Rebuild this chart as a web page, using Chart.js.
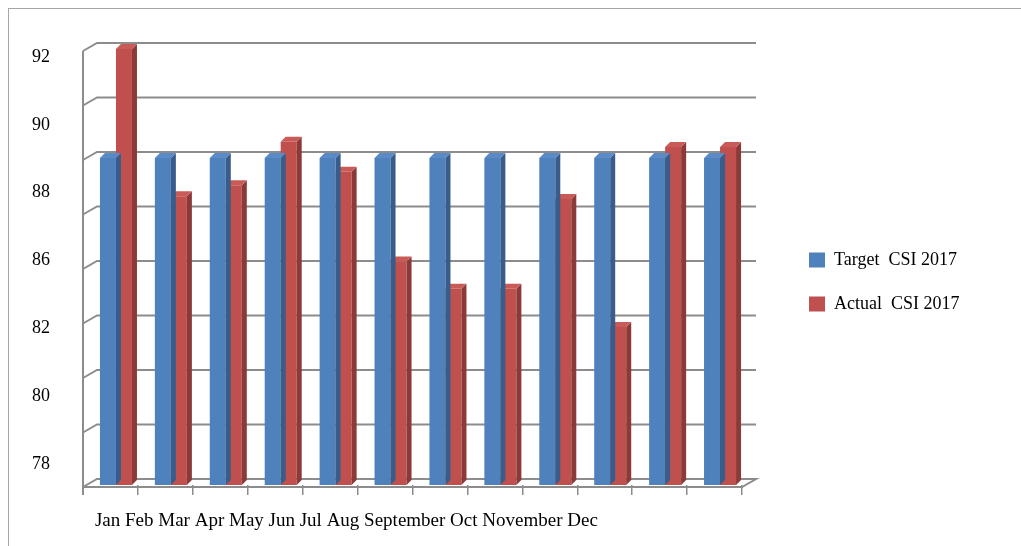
<!DOCTYPE html>
<html>
<head>
<meta charset="utf-8">
<script src="https://cdn.jsdelivr.net/npm/chart.js@4.4.1/dist/chart.umd.min.js"></script>
<style>
  html, body { margin: 0; padding: 0; background: #fff; }
  #wrap { position: relative; width: 1021px; height: 546px; overflow: hidden; }
  #frame { position: absolute; left: 8px; top: 8px; width: 1100px; height: 700px;
           border-left: 1px solid #a6a6a6; border-top: 1px solid #a6a6a6; }
  #c { position: absolute; left: 0; top: 0; }
</style>
</head>
<body>
<div id="wrap">
  <div id="frame"></div>
  <canvas id="c" width="1021" height="546"></canvas>
</div>
<script>
// ---------------- data ----------------
const categories = ['Jan', 'Feb', 'Mar', 'Apr', 'May', 'Jun', 'Jul', 'Aug', 'September', 'Oct', 'November', 'Dec'];
const seriesNames = ['Target  CSI 2017', 'Actual  CSI 2017'];
const targetCSI = [88, 88, 88, 88, 88, 88, 88, 88, 88, 88, 88, 88];
const actualCSI = [92, 86.6, 87.0, 88.6, 87.5, 84.2, 83.2, 83.2, 86.5, 81.8, 88.4, 88.4];
const yTickLabels = ['92', '90', '88', '86', '82', '80', '78'];
const yMin = 76, yMax = 92, yStep = 2;

// ---------------- styles / layout ----------------
const FONT = '"Liberation Serif", "Times New Roman", Times, serif';
const frontColors = ['#4F81BD', '#C0504D'];
const sideColors = ['#385D8A', '#8B3A38'];
const topColors = ['#5A8BC6', '#C85A57'];
const GRID = '#8c8c8c';
const plotLeft = 83, plotRight = 742, plotTop = 49, plotBottom = 485;
const legendLeft = 783;
const legendPad = 26, legendBoxW = 16, legendBoxH = 15, legendFont = 18;

Chart.defaults.font.family = FONT;
Chart.defaults.color = '#000';

// measure legend text so the layout lands where wanted
const mctx = document.createElement('canvas').getContext('2d');
mctx.font = legendFont + 'px ' + FONT;
const legendTextW = Math.max(...seriesNames.map(s => mctx.measureText(s).width));
const legendW = legendPad + legendBoxW + legendFont / 2 + legendTextW + 10;
const padRight = 1021 - legendLeft - legendW;

const threeD = {
  id: 'threeD',
  beforeDatasetsDraw(chart) {
    const { ctx, chartArea: a, scales: { y } } = chart;
    ctx.save();
    ctx.strokeStyle = GRID;
    ctx.lineWidth = 2;
    const vals = y.ticks.map(t => t.value);
    vals.forEach(v => {
      const py = y.getPixelForValue(v);
      ctx.beginPath();
      ctx.moveTo(a.left, py + 2);
      ctx.lineTo(a.left + 14, py - 6);
      ctx.lineTo(a.right + 14, py - 6);
      if (v === y.min) {
        ctx.lineTo(a.right, py + 2);
        ctx.lineTo(a.left, py + 2);
      }
      ctx.stroke();
    });
    ctx.beginPath();
    ctx.moveTo(a.left, y.getPixelForValue(y.max) + 2);
    ctx.lineTo(a.left, a.bottom + 10);
    ctx.stroke();
    ctx.restore();
    ctx.save();
    ctx.translate(5.5, 0);
  },
  afterDatasetDraw(chart, args) {
    const ctx = chart.ctx;
    const i = args.index;
    args.meta.data.forEach(bar => {
      const { x, y, base, width } = bar.getProps(['x', 'y', 'base', 'width'], true);
      const l = x - width / 2, r = x + width / 2;
      const d = 5;
      ctx.fillStyle = sideColors[i];
      ctx.beginPath();
      ctx.moveTo(r, y);
      ctx.lineTo(r + d, y - d);
      ctx.lineTo(r + d, base - d);
      ctx.lineTo(r, base);
      ctx.closePath();
      ctx.fill();
      ctx.fillStyle = topColors[i];
      ctx.beginPath();
      ctx.moveTo(l, y);
      ctx.lineTo(l + d, y - d);
      ctx.lineTo(r + d, y - d);
      ctx.lineTo(r, y);
      ctx.closePath();
      ctx.fill();
    });
  },
  afterDatasetsDraw(chart) {
    chart.ctx.restore();
  }
};

new Chart(document.getElementById('c'), {
  type: 'bar',
  data: {
    labels: categories,
    datasets: [
      { label: seriesNames[0], data: targetCSI, base: yMin, backgroundColor: frontColors[0], borderWidth: 0, clip: false },
      { label: seriesNames[1], data: actualCSI, base: yMin, backgroundColor: frontColors[1], borderWidth: 0, clip: false }
    ]
  },
  options: {
    responsive: false,
    animation: false,
    layout: { padding: { left: 0, top: plotTop, right: padRight, bottom: 0 } },
    datasets: { bar: { categoryPercentage: 0.583, barPercentage: 1.0 } },
    plugins: {
      tooltip: { enabled: false },
      legend: {
        position: 'right',
        align: 'center',
        fullSize: false,
        maxWidth: 400,
        title: { display: true, text: '', font: { size: 10, lineHeight: 1 }, padding: 10 },
        labels: {
          boxWidth: legendBoxW, boxHeight: legendBoxH, padding: legendPad,
          color: '#000', font: { size: legendFont, family: FONT }
        }
      }
    },
    scales: {
      x: {
        type: 'category',
        position: 'bottom',
        border: { display: false },
        grid: { display: true, drawOnChartArea: false, drawTicks: true, tickLength: 10, color: GRID, lineWidth: 1.5, offset: true },
        ticks: {
          autoSkip: false, maxRotation: 0, minRotation: 0, align: 'start', labelOffset: -15.5, padding: 15,
          color: '#000', font: { size: 19, family: FONT },
          callback: (v, idx) => idx === 0 ? categories.join(' ') : ''
        },
        afterFit: s => { s.height = 546 - plotBottom; }
      },
      y: {
        type: 'linear', display: false, min: yMin, max: yMax,
        ticks: { stepSize: yStep }
      },
      yLab: {
        type: 'linear', position: 'left', bounds: 'data',
        min: -0.31, max: 6.118,
        border: { display: false },
        grid: { display: false, drawTicks: false },
        ticks: {
          padding: 33, color: '#000', font: { size: 18, family: FONT },
          callback: v => yTickLabels[yTickLabels.length - 1 - v]
        },
        afterBuildTicks: s => { s.ticks = yTickLabels.map((_, i) => ({ value: yTickLabels.length - 1 - i })); },
        afterFit: s => { s.width = plotLeft; }
      },
      yR: {
        type: 'linear', position: 'right',
        border: { display: false },
        grid: { display: false, drawTicks: false },
        ticks: { display: false },
        afterFit: s => { s.width = legendLeft - plotRight; }
      }
    }
  },
  plugins: [threeD]
});
</script>
</body>
</html>
